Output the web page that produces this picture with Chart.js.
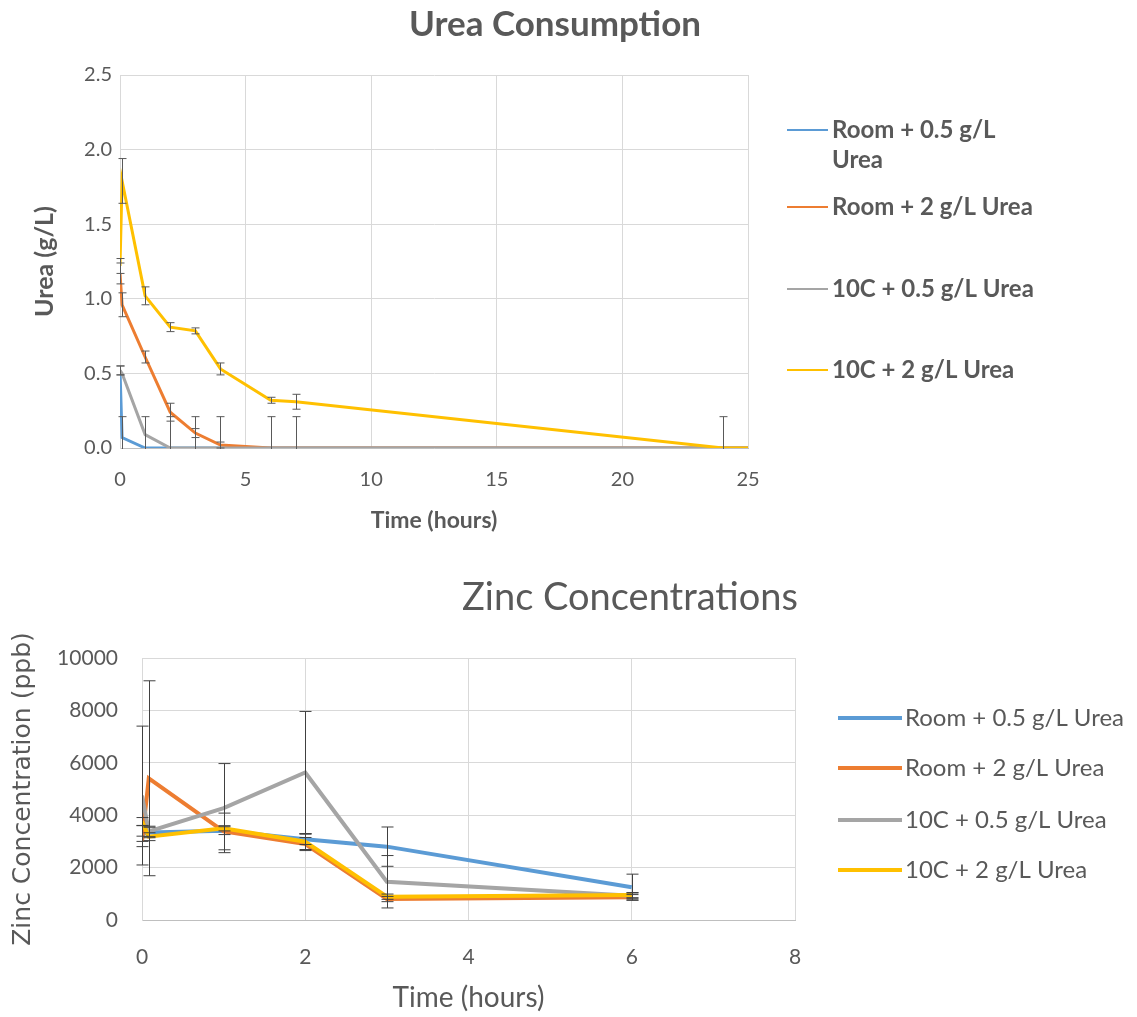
<!DOCTYPE html>
<html>
<head>
<meta charset="utf-8">
<script src="https://cdn.jsdelivr.net/npm/chart.js@4/dist/chart.umd.min.js"></script>
<style>
  body { margin: 0; background: #fff; overflow: hidden; }
  .box { position: absolute; left: 0; width: 1137px; }
  #top { top: 0; height: 540px; }
  #bottom { top: 540px; height: 477px; }
</style>
</head>
<body>
<div class="box" id="top"><canvas id="urea"></canvas></div>
<div class="box" id="bottom"><canvas id="zinc"></canvas></div>
<script>
// --- data ---
const seriesNames = ['Room + 0.5 g/L Urea', 'Room + 2 g/L Urea', '10C + 0.5 g/L Urea', '10C + 2 g/L Urea'];

// Urea consumption (g/L) vs time (hours)
const ureaTimes = [0, 0.083, 1, 2, 3, 4, 6, 7, 24, 25];
const ureaRoom05 = [0.52, 0.07, 0, 0, 0, 0, 0, 0, 0, 0];
const ureaRoom2 = [1.17, 0.96, 0.61, 0.24, 0.10, 0.02, 0, 0, 0, 0];
const urea10C05 = [0.52, 0.50, 0.09, 0, 0, 0, 0, 0, 0, 0];
const urea10C2 = [1.22, 1.79, 1.02, 0.81, 0.785, 0.53, 0.32, 0.31, 0, 0];
const ureaErrRoom05 = [0.03, 0.14, 0, 0, 0, 0, 0, 0, 0, 0];
const ureaErrRoom2 = [0.07, 0.08, 0.04, 0.06, 0.03, 0.02, 0, 0, 0, 0];
const ureaErr10C05 = [0.03, 0, 0.12, 0.21, 0.21, 0.21, 0.21, 0.21, 0, 0];
const ureaErr10C2 = [0.05, 0.15, 0.06, 0.03, 0.02, 0.04, 0.02, 0.05, 0.21, 0];

// Zinc concentration (ppb) vs time (hours)
const zincTimes = [0, 0.083, 1, 2, 3, 6];
const zincRoom05 = [3300, 3340, 3410, 3080, 2800, 1250];
const zincRoom2 = [3000, 5410, 3380, 2900, 800, 870];
const zinc10C05 = [4750, 3380, 4270, 5630, 1460, 930];
const zinc10C2 = [3760, 3180, 3500, 2990, 890, 950];
const zincErrRoom05 = [300, 200, 150, 200, 750, 500];
const zincErrRoom2 = [200, 3720, 700, 250, 100, 100];
const zincErr10C05 = [2650, 200, 1700, 2330, 1000, 100];
const zincErr10C2 = [150, 150, 100, 300, 100, 100];

const colors = ['#5B9BD5', '#ED7D31', '#A5A5A5', '#FFC000'];
const textColor = '#595959';
const gridColor = '#D9D9D9';

function pts(times, vals) {
  return times.map((t, i) => ({ x: t, y: vals[i] }));
}

// error bars drawn through the chart scales
const errorBars = {
  id: 'errorBars',
  afterDatasetsDraw(chart, args, opts) {
    const { ctx, chartArea, scales: { x, y } } = chart;
    ctx.save();
    ctx.beginPath();
    ctx.rect(0, chartArea.top - 2, chart.width, chartArea.height + 3);
    ctx.clip();
    ctx.strokeStyle = opts.color;
    ctx.lineWidth = 1;
    chart.data.datasets.forEach(ds => {
      (ds.errors || []).forEach((e, i) => {
        const p = ds.data[i];
        if (!p || !e) return;
        const px = Math.round(x.getPixelForValue(p.x)) + 0.5;
        const hi = y.getPixelForValue(p.y + e);
        const lo = y.getPixelForValue(p.y - e);
        ctx.beginPath();
        ctx.moveTo(px, hi); ctx.lineTo(px, lo);
        ctx.moveTo(px - opts.cap, hi); ctx.lineTo(px + opts.cap, hi);
        ctx.moveTo(px - opts.cap, lo); ctx.lineTo(px + opts.cap, lo);
        ctx.stroke();
      });
    });
    ctx.restore();
  }
};

// chart title and side legend, Excel style
const decor = {
  id: 'decor',
  afterDraw(chart, args, o) {
    const ctx = chart.ctx;
    ctx.save();
    ctx.fillStyle = textColor;
    ctx.textBaseline = 'middle';
    ctx.textAlign = 'center';
    ctx.font = o.titleFont;
    ctx.fillText(o.title, o.titleX, o.titleY);
    ctx.textAlign = 'left';
    ctx.font = o.legendFont;
    chart.data.datasets.forEach((ds, i) => {
      const y = o.rows[i];
      ctx.strokeStyle = ds.borderColor;
      ctx.lineWidth = o.lineWidth;
      ctx.beginPath();
      ctx.moveTo(o.x, y);
      ctx.lineTo(o.x + o.len, y);
      ctx.stroke();
      // simple word wrap
      const words = ds.label.split(' ');
      const lines = [];
      let cur = '';
      words.forEach(w => {
        const t = cur ? cur + ' ' + w : w;
        if (cur && ctx.measureText(t).width > o.wrap) { lines.push(cur); cur = w; } else cur = t;
      });
      lines.push(cur);
      lines.forEach((t, j) => ctx.fillText(t, o.x + o.len + o.gap, y + j * o.step));
    });
    ctx.restore();
  }
};

function makeDatasets(times, series, errs, width) {
  return series.map((vals, i) => ({
    label: seriesNames[i],
    data: pts(times, vals),
    errors: errs[i],
    borderColor: colors[i],
    backgroundColor: colors[i],
    borderWidth: width,
    pointRadius: 0,
    tension: 0,
    order: 3 - i
  }));
}

const font = 'Lato';

new Chart(document.getElementById('urea'), {
  type: 'line',
  data: {
    datasets: makeDatasets(ureaTimes, [ureaRoom05, ureaRoom2, urea10C05, urea10C2],
      [ureaErrRoom05, ureaErrRoom2, ureaErr10C05, ureaErr10C2], 3)
  },
  options: {
    responsive: true,
    maintainAspectRatio: false,
    animation: false,
    layout: { padding: { left: 0, right: 389, top: 75, bottom: 0 } },
    plugins: {
      legend: { display: false },
      tooltip: { enabled: false },
      errorBars: { color: '#595959', cap: 4 },
      decor: {
        title: 'Urea Consumption', titleX: 555, titleY: 25,
        titleFont: 'bold 35px ' + font,
        legendFont: 'bold 24px ' + font,
        x: 787, len: 41, gap: 4, lineWidth: 2,
        rows: [130, 207, 289, 370], step: 30, wrap: 210
      }
    },
    scales: {
      x: {
        type: 'linear', min: 0, max: 25,
        afterFit: s => { s.height = 92; },
        ticks: { stepSize: 5, color: textColor, font: { family: font, size: 20 }, padding: 20 },
        grid: { color: gridColor, drawTicks: false },
        border: { color: '#BFBFBF' },
        title: { display: true, text: 'Time (hours)', color: textColor,
          font: { family: font, size: 23, weight: 'bold' }, padding: { bottom: 6 } }
      },
      y: {
        min: 0, max: 2.5,
        afterFit: s => { s.width = 120; },
        ticks: { stepSize: 0.5, color: textColor, font: { family: font, size: 20 }, padding: 8,
          callback: v => v.toFixed(1) },
        grid: { color: gridColor, drawTicks: false },
        border: { color: gridColor },
        title: { display: true, text: 'Urea (g/L)', color: textColor,
          font: { family: font, size: 25, weight: 'bold' }, padding: { top: 30 } }
      }
    }
  },
  plugins: [errorBars, decor]
});

new Chart(document.getElementById('zinc'), {
  type: 'line',
  data: {
    datasets: makeDatasets(zincTimes, [zincRoom05, zincRoom2, zinc10C05, zinc10C2],
      [zincErrRoom05, zincErrRoom2, zincErr10C05, zincErr10C2], 4)
  },
  options: {
    responsive: true,
    maintainAspectRatio: false,
    animation: false,
    layout: { padding: { left: 0, right: 342, top: 118, bottom: 0 } },
    plugins: {
      legend: { display: false },
      tooltip: { enabled: false },
      errorBars: { color: '#404040', cap: 6 },
      decor: {
        title: 'Zinc Concentrations', titleX: 630, titleY: 58,
        titleFont: '38px ' + font,
        legendFont: '24px ' + font,
        x: 838, len: 64, gap: 3, lineWidth: 4,
        rows: [178, 228, 280, 330], step: 26, wrap: 1000
      }
    },
    scales: {
      x: {
        type: 'linear', min: 0, max: 8,
        afterFit: s => { s.height = 97; },
        ticks: { stepSize: 2, color: textColor, font: { family: font, size: 21 }, padding: 25 },
        grid: { color: gridColor, drawTicks: false },
        border: { color: '#BFBFBF' },
        title: { display: true, text: 'Time (hours)', color: textColor,
          font: { family: font, size: 28 }, padding: { bottom: 2 } }
      },
      y: {
        min: 0, max: 10000,
        afterFit: s => { s.width = 142; },
        ticks: { stepSize: 2000, color: textColor, font: { family: font, size: 21 }, padding: 24,
          callback: v => String(v) },
        grid: { color: gridColor, drawTicks: false },
        border: { color: gridColor },
        title: { display: true, text: 'Zinc Concentration (ppb)', color: textColor,
          font: { family: 'DejaVu Sans', size: 25 }, padding: { top: 8 } }
      }
    }
  },
  plugins: [errorBars, decor]
});
</script>
</body>
</html>
